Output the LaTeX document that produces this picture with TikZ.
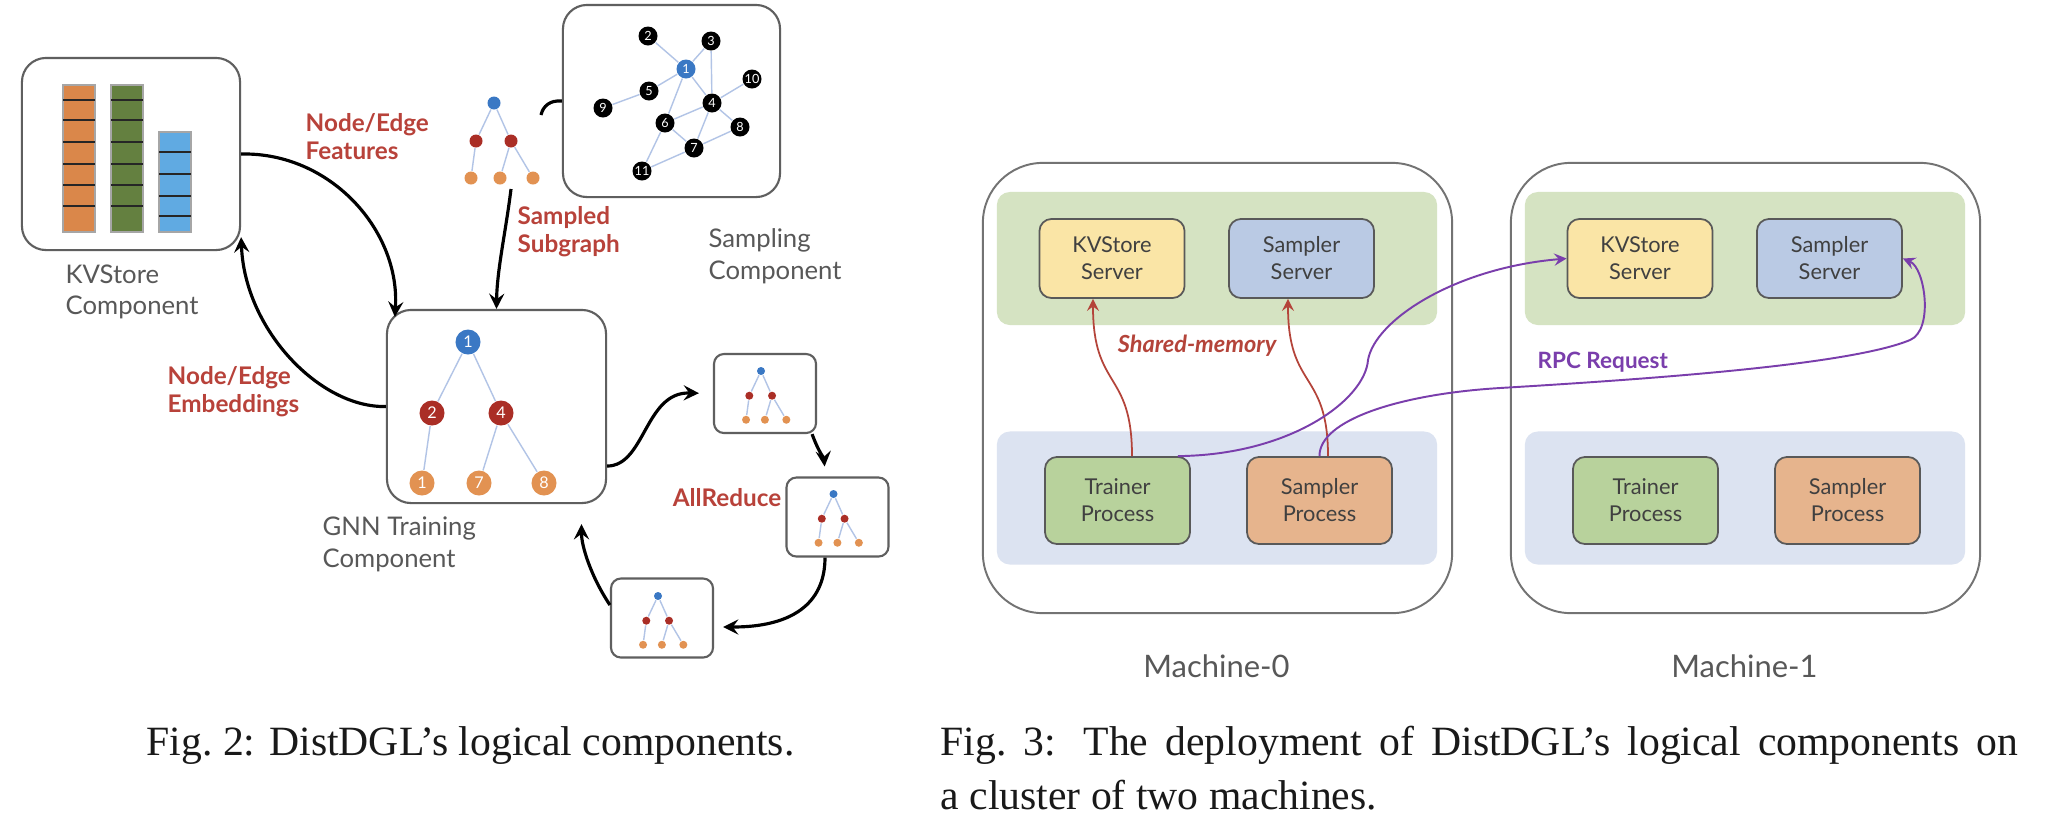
\documentclass[tikz,border=0pt]{standalone}
\usepackage{fontspec}
\setmainfont{Liberation Serif}
\newfontfamily\diagfont{Lato}
\usetikzlibrary{arrows, positioning}

\definecolor{rootblue}{RGB}{58,120,196}
\definecolor{hopred}{RGB}{170,46,38}
\definecolor{leaforange}{RGB}{226,146,82}
\definecolor{edgeblue}{RGB}{178,196,230}
\definecolor{flowred}{RGB}{184,66,58}
\definecolor{textgray}{RGB}{88,88,88}
\definecolor{boxgray}{RGB}{95,95,95}
\definecolor{barorange}{RGB}{218,135,74}
\definecolor{bargreen}{RGB}{100,128,64}
\definecolor{barblue}{RGB}{96,170,226}
\definecolor{bandgreen}{RGB}{213,227,194}
\definecolor{bandblue}{RGB}{220,227,241}
\definecolor{kvyellow}{RGB}{250,229,166}
\definecolor{samblue}{RGB}{186,202,228}
\definecolor{trgreen}{RGB}{184,210,156}
\definecolor{sporange}{RGB}{230,180,141}
\definecolor{shmred}{RGB}{180,68,58}
\definecolor{rpcpurple}{RGB}{122,62,172}

% small sampled tree: name, root position, scale, dot size
\newcommand{\minitree}[4]{%
  \begin{scope}[shift={#2}, scale=#3]
    \node[dot, fill=rootblue, minimum size=#4] (#1-r) at (0,0) {};
    \node[dot, fill=hopred, minimum size=#4] (#1-a) at (-18,38) {};
    \node[dot, fill=hopred, minimum size=#4] (#1-b) at (17,38) {};
    \node[dot, fill=leaforange, minimum size=#4] (#1-c) at (-23,75) {};
    \node[dot, fill=leaforange, minimum size=#4] (#1-d) at (6,75) {};
    \node[dot, fill=leaforange, minimum size=#4] (#1-e) at (39,75) {};
    \draw[gedge] (#1-r) -- (#1-a) (#1-r) -- (#1-b) (#1-a) -- (#1-c)
      (#1-b) -- (#1-d) (#1-b) -- (#1-e);
  \end{scope}}

\begin{document}
\begin{tikzpicture}[x=0.01cm, y=-0.01cm,
  comp/.style={draw=boxgray, line width=0.6pt, rounded corners=0.24cm, inner sep=0pt},
  minibox/.style={draw=boxgray, line width=0.6pt, rounded corners=0.1cm, minimum width=1.02cm, minimum height=0.79cm, inner sep=0pt},
  gdot/.style={circle, fill=black, inner sep=0pt, minimum size=0.19cm, text=white, font=\diagfont\fontsize{3.6}{4}\selectfont},
  tnode/.style={circle, inner sep=0pt, minimum size=0.25cm, text=white, font=\diagfont\fontsize{4.6}{5}\selectfont},
  dot/.style={circle, inner sep=0pt},
  gedge/.style={draw=edgeblue, line width=0.4pt},
  cellline/.style={draw=black!85, line width=0.7pt},
  complabel/.style={font=\diagfont\fontsize{7.3}{9}\selectfont, text=textgray, align=left, inner sep=0pt},
  flow/.style={font=\diagfont\bfseries\fontsize{6.9}{8}\selectfont, text=flowred, align=left, inner sep=0pt},
  arrow/.style={line width=0.9pt, ->, >=stealth},
  machine/.style={draw=black!55, line width=0.55pt, rounded corners=0.6cm, minimum width=4.69cm, minimum height=4.5cm},
  band/.style={rounded corners=0.13cm, minimum width=4.4cm, minimum height=1.33cm},
  proc/.style={draw=black!65, line width=0.5pt, rounded corners=0.12cm, minimum width=1.45cm, align=center, font=\diagfont\fontsize{6.2}{7.7}\selectfont, text=black!75, inner sep=0pt},
  mlabel/.style={font=\diagfont\fontsize{8.8}{10}\selectfont, text=textgray, inner sep=0pt},
  shm/.style={draw=shmred, line width=0.5pt, ->, >=stealth},
  rpc/.style={draw=rpcpurple, line width=0.55pt, ->, >=stealth},
  figcap/.style={font=\fontsize{11.85}{15.4}\selectfont, text=black!90, inner sep=0pt}]

  \fill[white] (0,0) rectangle (2054,832);
  \useasboundingbox (0,0) rectangle (2054,832);

  % Nodes: logical components
  \node (kvstore) [comp, minimum width=2.18cm, minimum height=1.92cm] at (131,154) {};
  \foreach \bx/\col/\top in {63/barorange/85, 111/bargreen/85, 159/barblue/132}
    \filldraw[fill=\col, draw=black!35, line width=0.3pt] (\bx,\top) rectangle (\bx+32,232);
  \foreach \y in {100,120,142,164,185,206}
    \draw[cellline] (63,\y) -- (95,\y) (111,\y) -- (143,\y);
  \foreach \y in {152,174,196,216}
    \draw[cellline] (159,\y) -- (191,\y);
  \node (kvlabel) [complabel, anchor=west] at (65,292) {KVStore\\Component};

  \node (sampling) [comp, minimum width=2.17cm, minimum height=1.92cm] at (671.5,101) {};
  \node (g1) [gdot, fill=rootblue] at (686,69) {1};
  \node (g2) [gdot] at (648,36) {2};
  \node (g3) [gdot] at (711,41) {3};
  \node (g4) [gdot] at (712,103) {4};
  \node (g5) [gdot] at (649,91) {5};
  \node (g6) [gdot] at (665,123) {6};
  \node (g7) [gdot] at (694,148) {7};
  \node (g8) [gdot] at (740,127) {8};
  \node (g9) [gdot] at (603,108) {9};
  \node (g10) [gdot] at (752,79) {10};
  \node (g11) [gdot] at (642,171) {11};
  \draw[gedge] (g2) -- (g1) (g3) -- (g1) (g5) -- (g1) (g9) -- (g5) (g1) -- (g6)
    (g1) -- (g4) (g3) -- (g4) (g4) -- (g10) (g4) -- (g6) (g4) -- (g8)
    (g4) -- (g7) (g6) -- (g7) (g6) -- (g11) (g11) -- (g7) (g7) -- (g8);
  \node (samplabel) [complabel, anchor=west] at (708,256) {Sampling\\Component};

  \node (gnn) [comp, minimum width=2.19cm, minimum height=1.93cm] at (496.5,406.5) {};
  \node (t1) [tnode, fill=rootblue] at (468,342) {1};
  \node (t2) [tnode, fill=hopred] at (432,413) {2};
  \node (t4) [tnode, fill=hopred] at (501,413) {4};
  \node (t1b) [tnode, fill=leaforange] at (422,483) {1};
  \node (t7) [tnode, fill=leaforange] at (479,483) {7};
  \node (t8) [tnode, fill=leaforange] at (544,483) {8};
  \draw[gedge] (t1) -- (t2) (t1) -- (t4) (t2) -- (t1b) (t4) -- (t7) (t4) -- (t8);
  \node (gnnlabel) [complabel, anchor=west] at (322,544) {GNN Training\\Component};

  \minitree{sub}{(494,103)}{1}{0.13cm}
  \coordinate (subtip) at (541,115);

  \node (allA) [minibox] at (765,393.5) {};
  \node (allB) [minibox] at (837.5,517) {};
  \node (allC) [minibox] at (662,618) {};
  \minitree{trA}{(761,371)}{0.65}{0.08cm}
  \minitree{trB}{(833.5,494)}{0.65}{0.08cm}
  \minitree{trC}{(658,596)}{0.65}{0.08cm}

  \node (feat) [flow, anchor=west] at (305,137) {Node/Edge\\Features};
  \node (subg) [flow, anchor=west] at (517,232) {Sampled\\Subgraph};
  \node (emb) [flow, anchor=west] at (167,392) {Node/Edge\\Embeddings};
  \node (allreduce) [flow] at (727,498) {AllReduce};

  % Arrows: logical components
  \draw [arrow] (kvstore.east) .. controls (330,152) and (400,230) .. ([xshift=0.09cm, yshift=-0.08cm]gnn.north west);
  \draw [arrow] (gnn.west) .. controls (320,408) and (245,330) .. ([yshift=0.14cm]kvstore.south east);
  \draw [arrow] ([xshift=0.11cm, yshift=-0.11cm]sub-d.center) .. controls (506,230) and (497,270) .. (gnn.north);
  \draw [line width=0.9pt] (sampling.west) .. controls (550,100) and (543,106) .. (subtip);
  \draw [arrow, shorten >=0.14cm] ([yshift=-0.595cm]gnn.east) .. controls (645,466) and (645,392) .. (allA.west);
  \draw [arrow, shorten >=0.1cm] ([xshift=-0.05cm]allA.south east) to[out=-70, in=95] ([xshift=-0.12cm]allB.north);
  \draw [arrow, shorten >=0.09cm] ([xshift=-0.125cm]allB.south) .. controls (825,605) and (790,627) .. ([yshift=-0.09cm]allC.east);
  \draw [arrow, shorten >=0.2cm] ([yshift=0.13cm]allC.west) .. controls (590,575) and (581.5,545) .. ([xshift=0.85cm]gnn.south);

  % Nodes: deployment on two machines
  \foreach \m/\dx in {0/0, 1/528} {
    \begin{scope}[shift={(\dx,0)}]
      \node (m\m) [machine] at (1217.5,388) {};
      \node (m\m-srv) [band, fill=bandgreen] at (1217,258.5) {};
      \node (m\m-cli) [band, fill=bandblue] at (1217,498) {};
      \node (m\m-kv) [proc, fill=kvyellow, minimum height=0.79cm] at (1112,258.5) {KVStore\\Server};
      \node (m\m-ss) [proc, fill=samblue, minimum height=0.79cm] at (1301.5,258.5) {Sampler\\Server};
      \node (m\m-tr) [proc, fill=trgreen, minimum height=0.87cm] at (1117.5,500.5) {Trainer\\Process};
      \node (m\m-sp) [proc, fill=sporange, minimum height=0.87cm] at (1319.5,500.5) {Sampler\\Process};
      \node (m\m-name) [mlabel] at (1216.5,666) {Machine-\m};
    \end{scope}
  }
  \node (shmlabel) [flow, text=shmred, font=\diagfont\bfseries\itshape\fontsize{6.7}{8}\selectfont] at (1197,346) {Shared-memory};
  \node (rpclabel) [flow, text=rpcpurple, anchor=west, font=\diagfont\bfseries\fontsize{6.4}{8}\selectfont] at (1537,362) {RPC Request};

  % Arrows: deployment
  \draw [shm] ([xshift=0.145cm]m0-tr.north) .. controls (1132,370) and (1093,390) .. ([xshift=-0.19cm]m0-kv.south);
  \draw [shm] ([xshift=0.085cm]m0-sp.north) .. controls (1328,370) and (1288,390) .. ([xshift=-0.135cm]m0-ss.south);
  \draw [rpc] ([xshift=-0.13cm]m0-tr.north east) .. controls (1290,455) and (1365,400) .. (1368,360)
    .. controls (1375,320) and (1455,268) .. (m1-kv.west);
  \draw [rpc] (m0-sp.north) .. controls (1319,420) and (1400,394) .. (1500,388)
    .. controls (1650,379) and (1850,365) .. (1910,340)
    .. controls (1934,330) and (1925,268) .. (m1-ss.east);

  % Captions
  \node (cap2) [figcap, anchor=base west] at (146,755) {Fig.~2: DistDGL’s logical components.};
  \node (cap3) [figcap, anchor=base west, text width=10.77cm, align=justify] at (940,755) {Fig.~3: The deployment of DistDGL’s logical components on\linebreak a cluster of two machines.};
\end{tikzpicture}
\end{document}
